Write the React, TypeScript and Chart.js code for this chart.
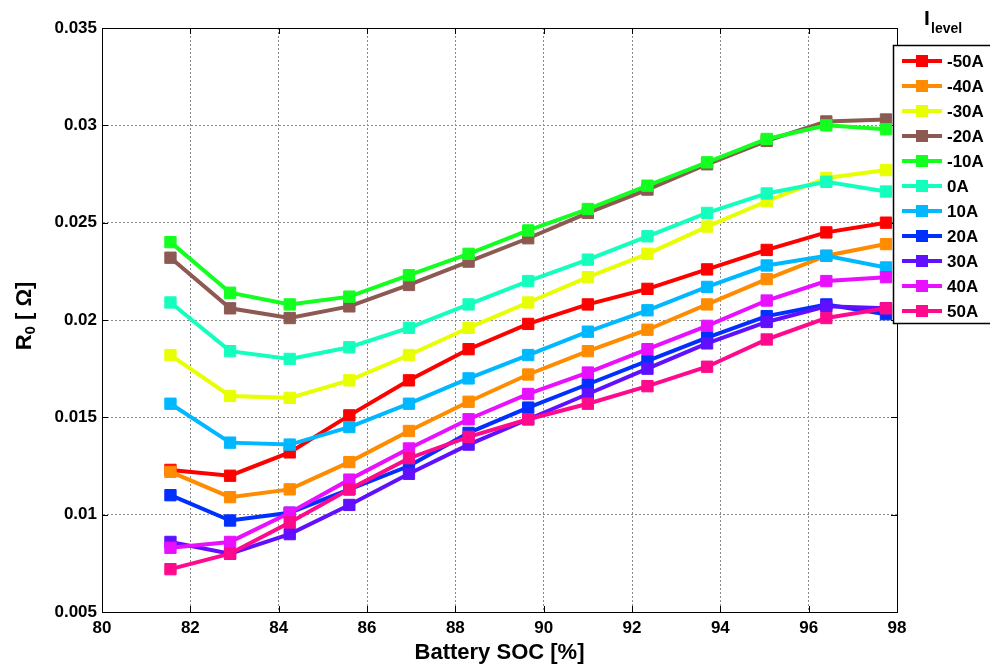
import React, { useEffect, useRef } from "react";
import { Chart, registerables } from "chart.js";

Chart.register(...registerables);

const FONT = '"Liberation Sans", Arial, Helvetica, sans-serif';

// Battery SOC [%] sample points
const socValues = [81.55, 82.9, 84.25, 85.6, 86.95, 88.3, 89.65, 91.0, 92.35, 93.7, 95.05, 96.4, 97.75];

// Current levels (legend labels)
const currentLevels = ["-50A", "-40A", "-30A", "-20A", "-10A", "0A", "10A", "20A", "30A", "40A", "50A"];

// R0 [Ohm] per current level
const r0Minus50 = [0.0123, 0.0120, 0.0132, 0.0151, 0.0169, 0.0185, 0.0198, 0.0208, 0.0216, 0.0226, 0.0236, 0.0245, 0.0250];
const r0Minus40 = [0.0122, 0.0109, 0.0113, 0.0127, 0.0143, 0.0158, 0.0172, 0.0184, 0.0195, 0.0208, 0.0221, 0.0233, 0.0239];
const r0Minus30 = [0.0182, 0.0161, 0.0160, 0.0169, 0.0182, 0.0196, 0.0209, 0.0222, 0.0234, 0.0248, 0.0261, 0.0273, 0.0277];
const r0Minus20 = [0.0232, 0.0206, 0.0201, 0.0207, 0.0218, 0.0230, 0.0242, 0.0255, 0.0267, 0.0280, 0.0292, 0.0302, 0.0303];
const r0Minus10 = [0.0240, 0.0214, 0.0208, 0.0212, 0.0223, 0.0234, 0.0246, 0.0257, 0.0269, 0.0281, 0.0293, 0.0300, 0.0298];
const r0Zero = [0.0209, 0.0184, 0.0180, 0.0186, 0.0196, 0.0208, 0.0220, 0.0231, 0.0243, 0.0255, 0.0265, 0.0271, 0.0266];
const r0Plus10 = [0.0157, 0.0137, 0.0136, 0.0145, 0.0157, 0.0170, 0.0182, 0.0194, 0.0205, 0.0217, 0.0228, 0.0233, 0.0227];
const r0Plus20 = [0.0110, 0.0097, 0.0101, 0.0113, 0.0125, 0.0142, 0.0155, 0.0167, 0.0179, 0.0191, 0.0202, 0.0208, 0.0203];
const r0Plus30 = [0.0086, 0.0080, 0.0090, 0.0105, 0.0121, 0.0136, 0.0149, 0.0162, 0.0175, 0.0188, 0.0199, 0.0207, 0.0206];
const r0Plus40 = [0.0083, 0.0086, 0.0101, 0.0118, 0.0134, 0.0149, 0.0162, 0.0173, 0.0185, 0.0197, 0.0210, 0.0220, 0.0222];
const r0Plus50 = [0.0072, 0.0080, 0.0096, 0.0113, 0.0129, 0.0140, 0.0149, 0.0157, 0.0166, 0.0176, 0.0190, 0.0201, 0.0206];

const seriesValues = [r0Minus50, r0Minus40, r0Minus30, r0Minus20, r0Minus10, r0Zero, r0Plus10, r0Plus20, r0Plus30, r0Plus40, r0Plus50];

const seriesColors = [
  "#ff0000", "#ff8c00", "#e8ff00", "#8c5a52", "#12ff20", "#14ffbe",
  "#00b8ff", "#0030ff", "#6010ff", "#e810ff", "#ff0a8c",
];

// Axis ticks
const xTickValues = [80, 82, 84, 86, 88, 90, 92, 94, 96, 98];
const yTickValues = [0.005, 0.01, 0.015, 0.02, 0.025, 0.03, 0.035];

const framePlugin = {
  id: "matlabFrame",
  beforeDatasetsDraw(chart: any) {
    const { ctx, chartArea } = chart;
    const { left, right, top, bottom } = chartArea;
    const xs = chart.scales.x;
    const ys = chart.scales.y;
    ctx.save();
    ctx.strokeStyle = "#000";
    ctx.lineWidth = 1;
    ctx.strokeRect(Math.round(left) + 0.5, Math.round(top) + 0.5, Math.round(right - left), Math.round(bottom - top));
    ctx.beginPath();
    xTickValues.forEach((v) => {
      const px = Math.round(xs.getPixelForValue(v)) + 0.5;
      ctx.moveTo(px, bottom);
      ctx.lineTo(px, bottom - 6);
      ctx.moveTo(px, top);
      ctx.lineTo(px, top + 6);
    });
    yTickValues.forEach((v) => {
      const py = Math.round(ys.getPixelForValue(v)) + 0.5;
      ctx.moveTo(left, py);
      ctx.lineTo(left + 6, py);
      ctx.moveTo(right, py);
      ctx.lineTo(right - 6, py);
    });
    ctx.stroke();
    ctx.restore();
  },
  afterDraw(chart: any) {
    const ctx = chart.ctx;
    ctx.save();
    // Y axis title: R0 [ Ω]
    ctx.translate(25, 316);
    ctx.rotate(-Math.PI / 2);
    ctx.fillStyle = "#000";
    ctx.textBaseline = "middle";
    ctx.textAlign = "left";
    const big = `bold 22px ${FONT}`;
    const small = `bold 15px ${FONT}`;
    ctx.font = big;
    const wR = ctx.measureText("R").width;
    const wRest = ctx.measureText(" [ Ω]").width;
    ctx.font = small;
    const w0 = ctx.measureText("0").width;
    const total = wR + w0 + wRest;
    let x = -total / 2;
    ctx.font = big;
    ctx.fillText("R", x, 0);
    x += wR;
    ctx.font = small;
    ctx.fillText("0", x, 6);
    x += w0;
    ctx.font = big;
    ctx.fillText(" [ Ω]", x, 0);
    ctx.restore();

    // Legend
    ctx.save();
    ctx.fillStyle = "#000";
    ctx.textAlign = "left";
    ctx.textBaseline = "alphabetic";
    ctx.font = `bold 21px ${FONT}`;
    ctx.fillText("I", 924, 25);
    ctx.font = `bold 14px ${FONT}`;
    ctx.fillText("level", 931, 33);

    ctx.fillStyle = "#fff";
    ctx.fillRect(893, 45, 120, 278);
    ctx.strokeStyle = "#000";
    ctx.lineWidth = 1.5;
    ctx.strokeRect(893.5, 45.5, 120, 278);

    chart.data.datasets.forEach((ds: any, i: number) => {
      const y = 61 + i * 25;
      ctx.strokeStyle = ds.borderColor;
      ctx.lineWidth = 4;
      ctx.beginPath();
      ctx.moveTo(902, y);
      ctx.lineTo(942, y);
      ctx.stroke();
      ctx.fillStyle = ds.borderColor;
      ctx.fillRect(916, y - 6, 12, 12);
      ctx.fillStyle = "#000";
      ctx.font = `bold 17px ${FONT}`;
      ctx.textBaseline = "middle";
      ctx.fillText(ds.label, 947, y + 1);
    });
    ctx.restore();
  },
};

export default function App() {
  const canvasRef = useRef<HTMLCanvasElement | null>(null);

  useEffect(() => {
    if (!canvasRef.current) return;
    const datasets = currentLevels.map((label, i) => ({
      label,
      data: socValues.map((x, j) => ({ x, y: seriesValues[i][j] })),
      borderColor: seriesColors[i],
      backgroundColor: seriesColors[i],
      pointBackgroundColor: seriesColors[i],
      pointBorderColor: seriesColors[i],
      borderWidth: 4,
      pointStyle: "rect",
      pointRadius: 8,
      pointBorderWidth: 1,
      tension: 0,
      order: currentLevels.length - i,
    }));

    const chart = new Chart(canvasRef.current, {
      type: "line",
      data: { datasets },
      options: {
        animation: false,
        responsive: false,
        events: [],
        layout: { padding: { left: 0, right: 93, top: 28, bottom: 0 } },
        plugins: { legend: { display: false }, tooltip: { enabled: false } },
        scales: {
          x: {
            type: "linear",
            min: 80,
            max: 98,
            afterFit: (s: any) => {
              s.height = 55;
            },
            afterBuildTicks: (s: any) => {
              s.ticks = xTickValues.map((v) => ({ value: v }));
            },
            ticks: {
              color: "#000",
              padding: 6,
              font: { family: FONT, size: 17, weight: "bold" },
              maxRotation: 0,
            },
            grid: { color: "#8a8a8a", lineWidth: 1, drawTicks: false },
            border: { display: true, color: "#000", width: 1, dash: [2, 2] },
            title: {
              display: true,
              text: "Battery SOC [%]",
              color: "#000",
              font: { family: FONT, size: 22, weight: "bold" },
              padding: { top: 0, bottom: 1 },
            },
          },
          y: {
            type: "linear",
            min: 0.005,
            max: 0.035,
            afterFit: (s: any) => {
              s.width = 102;
            },
            afterBuildTicks: (s: any) => {
              s.ticks = yTickValues.map((v) => ({ value: v }));
            },
            ticks: {
              color: "#000",
              padding: 5,
              font: { family: FONT, size: 17, weight: "bold" },
              callback: (v: any) => String(parseFloat(Number(v).toFixed(4))),
            },
            grid: { color: "#8a8a8a", lineWidth: 1, drawTicks: false },
            border: { display: true, color: "#000", width: 1, dash: [2, 2] },
          },
        },
      },
      plugins: [framePlugin],
    } as any);

    return () => chart.destroy();
  }, []);

  return (
    <div style={{ position: "absolute", left: 0, top: 0, width: 990, height: 667, background: "#fff" }}>
      <canvas ref={canvasRef} width={990} height={667} style={{ display: "block", width: 990, height: 667 }} />
    </div>
  );
}
